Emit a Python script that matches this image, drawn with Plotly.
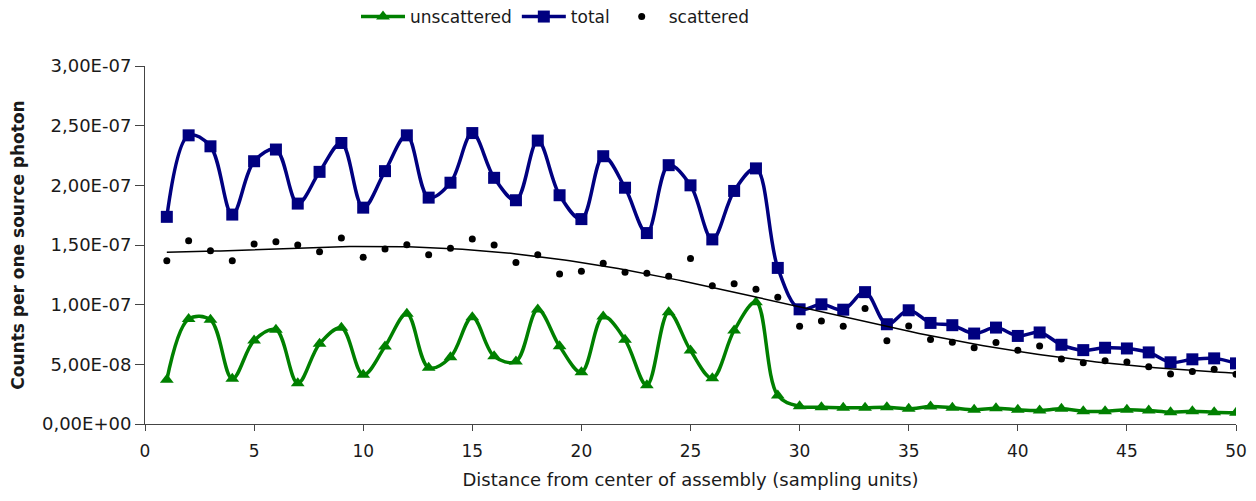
import numpy as np
import plotly.graph_objects as go

x_units = list(range(1, 51))

total = [1.736, 2.419, 2.327, 1.755, 2.202, 2.300, 1.847, 2.113, 2.355, 1.813,
         2.119, 2.419, 1.897, 2.022, 2.438, 2.063, 1.875, 2.375, 1.917, 1.717,
         2.244, 1.980, 1.600, 2.169, 2.000, 1.547, 1.953, 2.142, 1.308, 0.961,
         1.003, 0.958, 1.105, 0.836, 0.953, 0.847, 0.828, 0.758, 0.808, 0.738,
         0.767, 0.664, 0.619, 0.639, 0.633, 0.600, 0.517, 0.542, 0.550, 0.508]

scattered = [1.367, 1.536, 1.452, 1.369, 1.508, 1.527, 1.500, 1.444, 1.558, 1.397,
             1.467, 1.503, 1.419, 1.472, 1.550, 1.500, 1.353, 1.419, 1.258, 1.280,
             1.347, 1.272, 1.264, 1.239, 1.386, 1.158, 1.175, 1.130, 1.063, 0.819,
             0.863, 0.819, 0.967, 0.697, 0.822, 0.708, 0.686, 0.639, 0.683, 0.617,
             0.653, 0.544, 0.514, 0.531, 0.519, 0.480, 0.419, 0.439, 0.458, 0.417]

unscattered = [0.370, 0.880, 0.873, 0.379, 0.700, 0.790, 0.342, 0.672, 0.806, 0.412,
               0.650, 0.924, 0.471, 0.560, 0.895, 0.567, 0.524, 0.960, 0.652, 0.434,
               0.900, 0.706, 0.325, 0.937, 0.616, 0.384, 0.784, 1.021, 0.239, 0.148,
               0.141, 0.136, 0.136, 0.141, 0.127, 0.147, 0.136, 0.119, 0.132, 0.119,
               0.113, 0.127, 0.107, 0.107, 0.119, 0.113, 0.099, 0.107, 0.099, 0.094]

scale = 1e-7
y_tick_vals = [0, 0.5, 1.0, 1.5, 2.0, 2.5, 3.0]
y_tick_text = ["0,00E+00", "5,00E-08", "1,00E-07", "1,50E-07", "2,00E-07", "2,50E-07", "3,00E-07"]
x_tick_vals = [0, 5, 10, 15, 20, 25, 30, 35, 40, 45, 50]

xs = np.array(x_units, dtype=float)
tot = np.array(total) * scale
sca = np.array(scattered) * scale
uns = np.array(unscattered) * scale

# polynomial trendline of scattered data (fit on normalised x for stability)
u = (xs - 25.5) / 24.5
coef = np.polyfit(u, sca, 5)
xt = np.linspace(xs.min(), xs.max(), 200)
yt = np.polyval(coef, (xt - 25.5) / 24.5)

FONT = "DejaVu Sans, Arial, sans-serif"
TXT = "#1a1a1a"
AX = "#444"
OFF = 8  # default page body margin

fig = go.Figure()
fig.add_trace(go.Scatter(
    x=xs, y=uns, name="unscattered", mode="lines+markers",
    line=dict(color="#008000", width=3.5, shape="spline", smoothing=1.0),
    marker=dict(symbol="triangle-up", size=12, color="#008000"),
))
fig.add_trace(go.Scatter(
    x=xs, y=tot, name="total", mode="lines+markers",
    line=dict(color="#000080", width=3.5, shape="spline", smoothing=1.0),
    marker=dict(symbol="square", size=12, color="#000080"),
))
fig.add_trace(go.Scatter(
    x=xs, y=sca, name="scattered", mode="markers",
    marker=dict(symbol="circle", size=7, color="black"),
))
fig.add_trace(go.Scatter(
    x=xt, y=yt, mode="lines", showlegend=False,
    line=dict(color="black", width=1.5),
))

yvals = [v * scale for v in y_tick_vals]

fig.update_layout(
    width=1256, height=501,
    margin=dict(l=145 - OFF, r=20 + OFF, t=66 - OFF, b=77 + OFF, autoexpand=False),
    plot_bgcolor="white", paper_bgcolor="white",
    font=dict(family=FONT, size=17, color=TXT),
    showlegend=True,
    legend=dict(orientation="h", xref="container", yref="container",
                x=(555 - OFF) / 1256, xanchor="center", y=1 - (17 - OFF) / 501,
                yanchor="middle",
                font=dict(size=17, color=TXT), traceorder="normal",
                itemwidth=44, bgcolor="rgba(0,0,0,0)"),
    xaxis=dict(range=[0, 50], tickvals=x_tick_vals, showline=True, linecolor=AX,
               linewidth=1, ticks="outside", ticklen=6, tickcolor=AX,
               ticklabelstandoff=6, tickfont=dict(size=17),
               showgrid=False, zeroline=False, automargin=False,
               title=dict(text="Distance from center of assembly (sampling units)",
                          font=dict(size=18), standoff=12)),
    yaxis=dict(range=[0, 3.0e-7], tickvals=yvals,
               ticktext=y_tick_text, showline=True, linecolor=AX, linewidth=1,
               ticks="outside", ticklen=9, tickcolor=AX, tickfont=dict(size=18),
               showgrid=False, zeroline=False, automargin=False,
               title=dict(text="<b>Counts per one source photon</b>",
                          font=dict(size=17), standoff=16)),
    xaxis2=dict(range=[0, 50], tickvals=x_tick_vals, overlaying="x", anchor="y",
                side="bottom", ticks="inside", ticklen=5, tickcolor=AX,
                showticklabels=False, showline=False, showgrid=False,
                zeroline=False, automargin=False),
    yaxis2=dict(range=[0, 3.0e-7], tickvals=yvals, overlaying="y", anchor="x",
                side="left", ticks="inside", ticklen=5, tickcolor=AX,
                showticklabels=False, showline=False, showgrid=False,
                zeroline=False, automargin=False),
)

fig.write_html("out.html")
